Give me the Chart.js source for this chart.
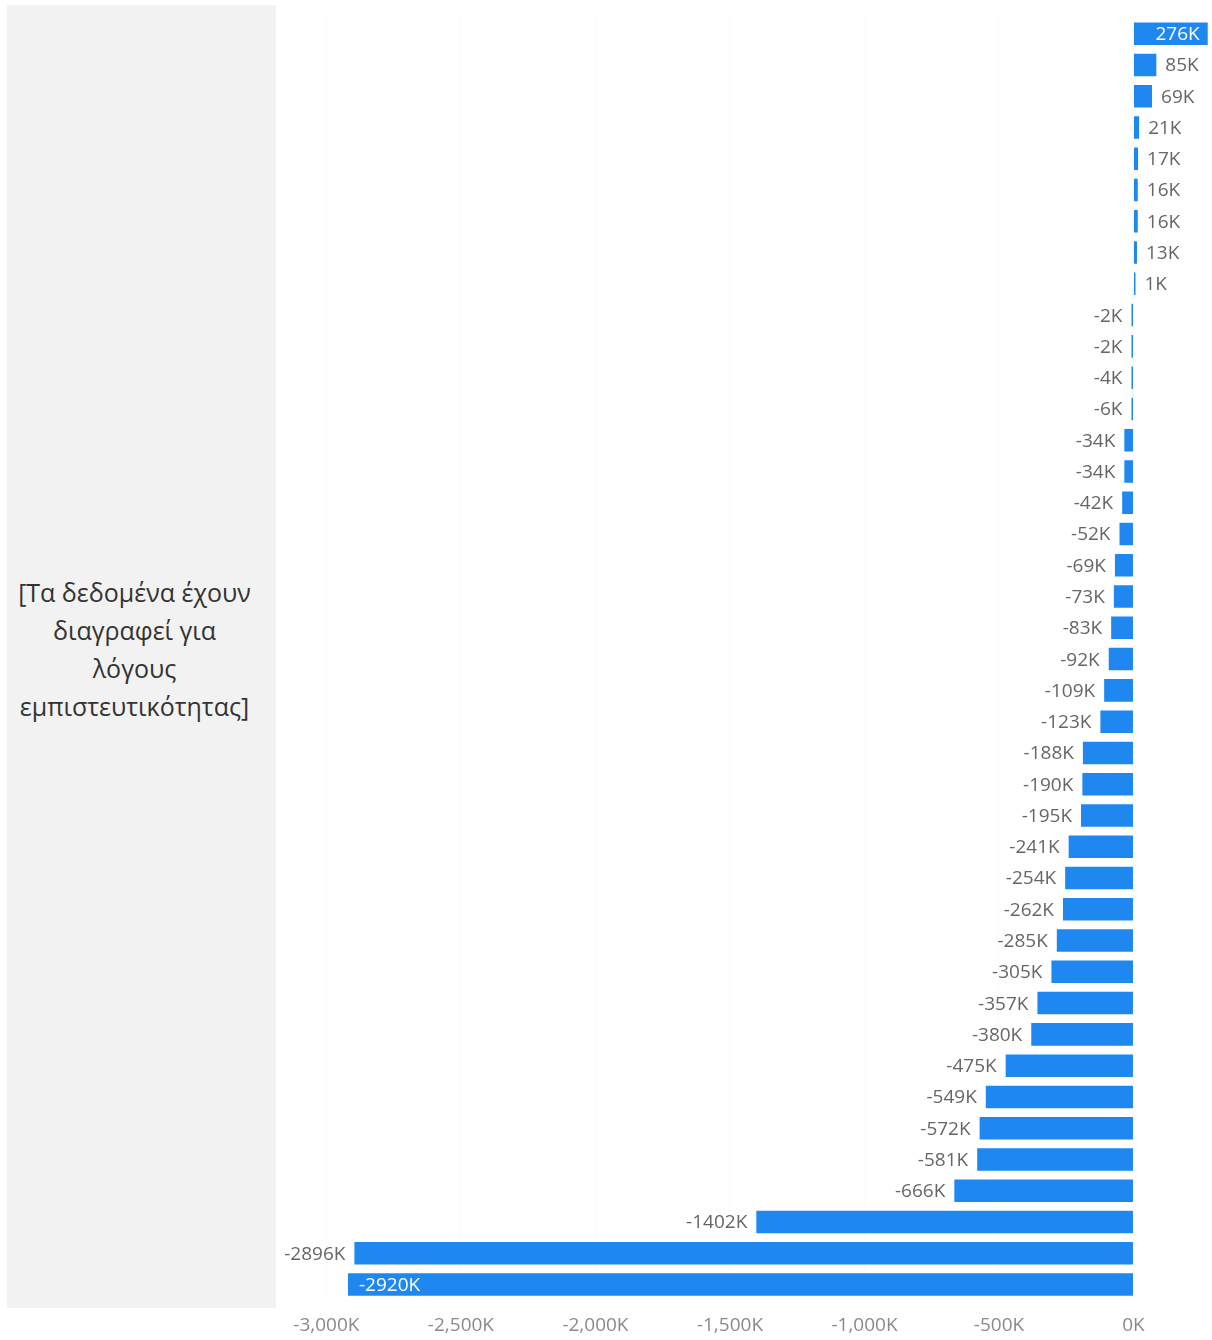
<!DOCTYPE html>
<html>
<head>
<meta charset="utf-8">
<script src="https://cdn.jsdelivr.net/npm/chart.js@4"></script>
<style>
  body { margin: 0; background: #fff; width: 1212px; height: 1340px; position: relative; overflow: hidden; }
  #panel {
    position: absolute; left: 7px; top: 5px; width: 269px; height: 1303px;
    background: #f2f2f2; display: flex; align-items: center; justify-content: center;
  }
  #panel p {
    margin: 0 14px 16px 0; text-align: center; font-family: "Open Sans", sans-serif; font-size: 25px;
    line-height: 38px; color: #333;
  }
  #wrap { position: absolute; left: 278px; top: 0; width: 930px; height: 1351px; }
</style>
</head>
<body>
<div id="panel"><p>[Τα δεδομένα έχουν<br>διαγραφεί για<br>λόγους<br>εμπιστευτικότητας]</p></div>
<div id="wrap"><canvas id="chart"></canvas></div>
<script>
// values in thousands, top to bottom
const values = [276, 85, 69, 21, 17, 16, 16, 13, 1, -2, -2, -4, -6, -34, -34, -42, -52, -69, -73, -83,
  -92, -109, -123, -188, -190, -195, -241, -254, -262, -285, -305, -357, -380, -475, -549, -572, -581,
  -666, -1402, -2896, -2920];
// category names were removed in the original, so just use row numbers
const categories = values.map((v, i) => String(i + 1));
const tickValues = [-3000, -2500, -2000, -1500, -1000, -500, 0];

const barColor = '#1f88f0';

// draw the value labels next to / inside the bars
const barLabels = {
  id: 'barLabels',
  afterDatasetsDraw(chart) {
    const ctx = chart.ctx;
    const area = chart.chartArea;
    const meta = chart.getDatasetMeta(0);
    ctx.save();
    ctx.font = '19px "Open Sans"';
    ctx.textBaseline = 'middle';
    meta.data.forEach((bar, i) => {
      const v = values[i];
      const text = v + 'K';
      const w = ctx.measureText(text).width;
      let x;
      if (v >= 0) {
        x = bar.x + 9;
        if (x + w > area.right) {
          ctx.fillStyle = '#fff'; ctx.textAlign = 'right'; x = bar.x - 8;
        } else {
          ctx.fillStyle = '#666'; ctx.textAlign = 'left';
        }
      } else {
        x = bar.x - 9;
        if (x - w < area.left + 3) {
          ctx.fillStyle = '#fff'; ctx.textAlign = 'left'; x = bar.x + 11;
        } else {
          ctx.fillStyle = '#666'; ctx.textAlign = 'right';
        }
      }
      ctx.fillText(text, x, bar.y + 1);
    });
    ctx.restore();
  }
};

new Chart(document.getElementById('chart'), {
  type: 'bar',
  data: {
    labels: categories,
    datasets: [{
      data: values,
      backgroundColor: barColor,
      borderWidth: 0,
      barPercentage: 0.72,
      categoryPercentage: 1,
      minBarLength: 2
    }]
  },
  options: {
    indexAxis: 'y',
    responsive: true,
    maintainAspectRatio: false,
    animation: false,
    layout: { padding: { top: 18, bottom: 0, left: 0, right: 0 } },
    plugins: {
      legend: { display: false },
      tooltip: { enabled: false }
    },
    scales: {
      y: { display: false },
      x: {
        min: -3180,
        max: 277,
        afterBuildTicks: axis => { axis.ticks = tickValues.map(v => ({ value: v })); },
        grid: {
          color: 'rgba(0,0,0,0.07)',
          tickLength: 0,
          drawTicks: false
        },
        border: { display: false, dash: [1, 3] },
        ticks: {
          color: '#8a8a8a',
          font: { family: 'Open Sans', size: 19 },
          padding: 14,
          maxRotation: 0,
          callback: v => v.toLocaleString('en-US') + 'K'
        }
      }
    }
  },
  plugins: [barLabels]
});
</script>
</body>
</html>
